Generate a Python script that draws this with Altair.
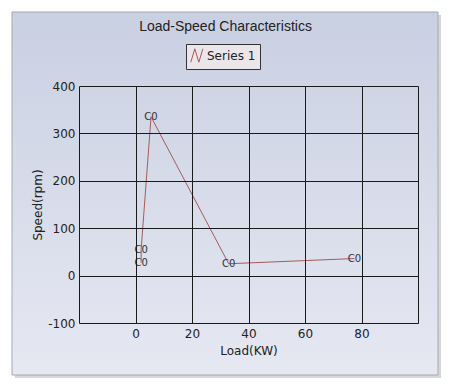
import altair as alt
import pandas as pd

# Data
load_kw = [2, 2, 5.5, 33, 77.5]
speed_rpm = [27, 55, 335, 25, 36]
point_labels = ["C0", "C0", "C0", "C0", "C0"]
series_names = ["Series 1"] * 5

x_ticks = [-20, 0, 20, 40, 60, 80, 100]
y_ticks = [-100, 0, 100, 200, 300, 400]

df = pd.DataFrame({
    "load": load_kw,
    "speed": speed_rpm,
    "label": point_labels,
    "series": series_names,
    "idx": list(range(len(load_kw))),
})

FONT = "DejaVu Sans"
PLOT_W, PLOT_H = 339, 237

xs = alt.Scale(domain=[-20, 100], nice=False, zero=False)
ys = alt.Scale(domain=[-100, 400], nice=False, zero=False)

x_axis = alt.Axis(
    values=x_ticks, title="Load(KW)", grid=True, gridColor="#1a1a1a", gridWidth=1,
    gridOpacity=1, domain=False, ticks=False, labelPadding=5, titlePadding=6,
    labelExpr="datum.value == -20 || datum.value == 100 ? '' : '' + datum.value",
    zindex=1,
)
y_axis = alt.Axis(
    values=y_ticks, title="Speed(rpm)", grid=True, gridColor="#1a1a1a", gridWidth=1,
    gridOpacity=1, domain=False, ticks=False, labelPadding=4, titlePadding=3,
    labelExpr="'' + datum.value",
    zindex=1,
)

panel_data = alt.Data(values=[{"p": 1}])
grad = alt.LinearGradient(
    gradient="linear", x1=0, y1=0, x2=0, y2=1,
    stops=[alt.GradientStop(color="#c9d0e2", offset=0),
           alt.GradientStop(color="#e6e8f2", offset=1)],
)

shadow = alt.Chart(panel_data).mark_rect(fill="#9a9a9a", opacity=0.4).encode(
    x=alt.value(-64), x2=alt.value(362), y=alt.value(-71), y2=alt.value(292)
)
panel = alt.Chart(panel_data).mark_rect(fill=grad, stroke="#a6a9b0", strokeWidth=1).encode(
    x=alt.value(-67), x2=alt.value(359), y=alt.value(-74), y2=alt.value(289)
)

base = alt.Chart(df)
line = base.mark_line(strokeWidth=1).encode(
    x=alt.X("load:Q", scale=xs, axis=x_axis),
    y=alt.Y("speed:Q", scale=ys, axis=y_axis),
    order=alt.Order("idx:Q"),
    color=alt.Color(
        "series:N",
        scale=alt.Scale(range=["#a85a5a"]),
        legend=alt.Legend(
            title=None, orient="none", legendX=107, legendY=-42,
            direction="horizontal",
            symbolType="M-1,1L-0.4,-1L0.2,1L0.8,-1",
            symbolSize=180, symbolStrokeWidth=1, symbolFillColor="transparent",
            labelFont=FONT, labelFontSize=12, labelColor="#222",
            strokeColor="#333", fillColor="#ebe6ea", padding=4,
            labelOffset=2,
        ),
    ),
)
text = base.mark_text(font=FONT, fontSize=10, color="#333").encode(
    x="load:Q", y="speed:Q", text="label:N"
)

chart = alt.layer(shadow, panel, line, text).properties(
    width=PLOT_W, height=PLOT_H,
    title=alt.TitleParams(
        "Load-Speed Characteristics", font="Liberation Sans", fontSize=14,
        fontWeight="normal", color="#222", anchor="middle", offset=-22, dx=-23,
    ),
    autosize=alt.AutoSizeParams(type="none"),
    padding={"left": 71, "top": 78, "right": 24, "bottom": 57},
).configure(background="white").configure_view(stroke=None).configure_axis(
    labelFont=FONT, labelFontSize=12, labelColor="#222",
    titleFont=FONT, titleFontSize=12, titleColor="#222", titleFontWeight="normal",
)

chart.save("out.html", embed_options={"renderer": "svg", "actions": False})
